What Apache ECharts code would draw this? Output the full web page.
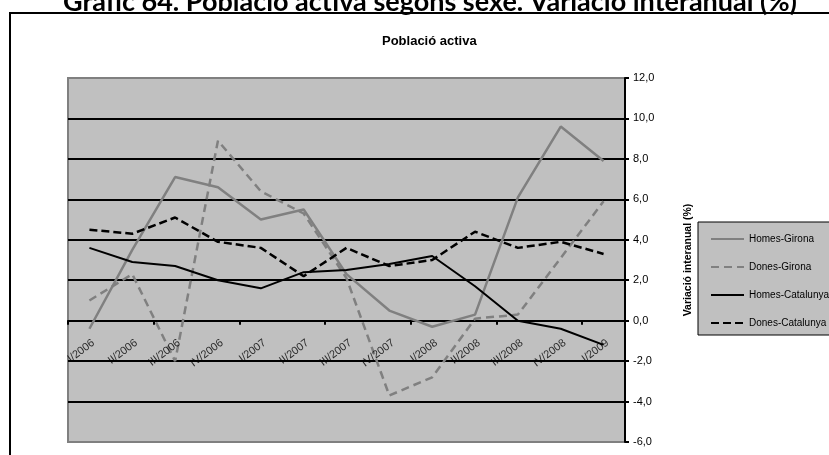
<!DOCTYPE html>
<html>
<head>
<meta charset="utf-8">
<script src="https://cdn.jsdelivr.net/npm/echarts@6/dist/echarts.min.js"></script>
<style>
html,body{margin:0;padding:0;background:#fff;}
#chart{width:829px;height:455px;}
</style>
</head>
<body>
<div id="chart"></div>
<script>
const pageTitle = 'Gràfic 64. Població activa segons sexe. Variació interanual (%)';
const chartTitle = 'Població activa';
const yAxisName = 'Variació interanual (%)';
const categories = ['I/2006','II/2006','III/2006','IV/2006','I/2007','II/2007','III/2007','IV/2007','I/2008','II/2008','III/2008','IV/2008','I/2009'];
const seriesNames = ['Homes-Girona','Dones-Girona','Homes-Catalunya','Dones-Catalunya'];
const homesGirona = [-0.4, 3.5, 7.1, 6.6, 5.0, 5.5, 2.3, 0.5, -0.3, 0.3, 6.1, 9.6, 7.9];
const donesGirona = [1.0, 2.3, -2.0, 8.9, 6.4, 5.3, 2.1, -3.7, -2.8, 0.1, 0.3, 3.1, 5.9];
const homesCatalunya = [3.6, 2.9, 2.7, 2.0, 1.6, 2.4, 2.5, 2.8, 3.2, 1.7, 0.0, -0.4, -1.2];
const donesCatalunya = [4.5, 4.3, 5.1, 3.9, 3.6, 2.2, 3.6, 2.7, 3.0, 4.4, 3.6, 3.9, 3.3];
const yMin = -6, yMax = 12, yStep = 2;

const chart = echarts.init(document.getElementById('chart'), null, {renderer: 'canvas'});
const AR = '"Liberation Sans", Arial, sans-serif';
const splitColors = [];
for (let v = yMin; v <= yMax; v += yStep) {
  splitColors.push(v === yMin || v === yMax ? '#808080' : '#000000');
}
function mk(name, data, color, type, width) {
  return {
    name: name, type: 'line', data: data, symbol: 'none', smooth: false,
    lineStyle: {color: color, width: width, type: type},
    itemStyle: {color: color},
    emphasis: {disabled: true}, animation: false
  };
}
chart.setOption({
  animation: false,
  tooltip: {show: false},
  title: [
    {text: pageTitle, left: 58, top: -16,
     textStyle: {fontFamily: 'Lato, "Open Sans", sans-serif', fontWeight: 'bold', fontSize: 27, color: '#000'}},
    {text: chartTitle, left: 377, top: 30,
     textStyle: {fontFamily: AR, fontWeight: 'bold', fontSize: 13, color: '#000'}}
  ],
  graphic: [
    {type: 'rect', shape: {x: 10, y: 13, width: 900, height: 500},
     style: {fill: 'none', stroke: '#000', lineWidth: 2}, z: 100, silent: true}
  ],
  grid: {left: 68, right: 204, top: 78, bottom: 13, show: true, outerBoundsMode: 'none', containLabel: false,
         backgroundColor: '#c0c0c0', borderColor: '#808080', borderWidth: 2},
  legend: {
    orient: 'vertical', left: 698, top: 222,
    data: seriesNames,
    itemWidth: 33, itemHeight: 12, itemGap: 18,
    padding: [12, 12, 7, 12],
    backgroundColor: '#c0c0c0', borderColor: '#000', borderWidth: 1,
    itemStyle: {opacity: 0},
    textStyle: {fontFamily: AR, fontSize: 10, color: '#000'},
    selectedMode: false
  },
  xAxis: {
    type: 'category', data: categories, boundaryGap: true,
    axisLine: {onZero: true, lineStyle: {color: '#000', width: 2}},
    axisTick: {show: true, length: 4, lineStyle: {color: '#000', width: 2}},
    axisLabel: {show: false},
    splitLine: {show: false}
  },
  yAxis: {
    type: 'value', position: 'right', min: yMin, max: yMax, interval: yStep,
    name: yAxisName, nameLocation: 'middle', nameRotate: 90, nameGap: 58,
    nameTextStyle: {fontFamily: AR, fontWeight: 'bold', fontSize: 10.5, color: '#000'},
    axisLine: {show: true, lineStyle: {color: '#000', width: 2}},
    axisTick: {show: true, inside: false, length: 4, lineStyle: {color: '#000', width: 2}},
    axisLabel: {margin: 8, fontFamily: AR, fontSize: 11, color: '#000',
                formatter: v => v.toFixed(1).replace('.', ',')},
    splitLine: {show: true, lineStyle: {color: splitColors, width: 2}}
  },
  series: [
    mk(seriesNames[0], homesGirona, '#808080', 'solid', 2.5),
    mk(seriesNames[1], donesGirona, '#808080', [8, 5], 2.5),
    mk(seriesNames[2], homesCatalunya, '#000000', 'solid', 2),
    mk(seriesNames[3], donesCatalunya, '#000000', [8, 4], 2.5),
    {
      name: 'axisLabels', type: 'scatter', symbolSize: 0, silent: true,
      data: categories.map(c => [c, 0]),
      label: {show: true, position: [4, 21], rotate: 37, align: 'right', verticalAlign: 'middle',
              formatter: p => p.value[0], fontFamily: AR, fontSize: 11, color: '#000'},
      z: 20, animation: false
    }
  ]
});
</script>
</body>
</html>
